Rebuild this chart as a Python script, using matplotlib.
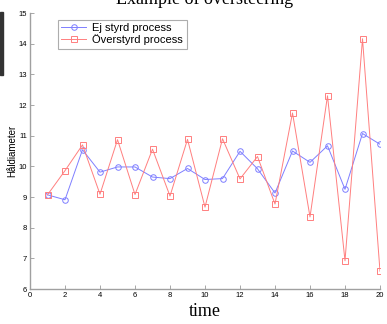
import matplotlib.pyplot as plt
from matplotlib.patches import Rectangle

t = list(range(1, 21))
ej_styrd = [9.07, 8.91, 10.54, 9.81, 9.98, 9.98, 9.65, 9.60, 9.93, 9.57,
            9.60, 10.49, 9.92, 9.13, 10.50, 10.13, 10.67, 9.25, 11.07, 10.72]
overstyrd = [9.07, 9.86, 10.70, 9.09, 10.87, 9.08, 10.56, 9.03, 10.88, 8.67,
             10.90, 9.59, 10.32, 8.77, 11.74, 8.35, 12.30, 6.92, 14.16, 6.58]
yticks = list(range(6, 16))
xticks = list(range(0, 21, 2))

fig = plt.figure(figsize=(3.87, 3.24), dpi=100)
ax = fig.add_axes([30 / 387, 1 - 289 / 324, 350 / 387, 276 / 324])

ax.plot(t, ej_styrd, color="#7f7fff", linewidth=0.7, marker="o", markersize=4,
        markerfacecolor="none", markeredgewidth=0.7, label="Ej styrd process")
ax.plot(t, overstyrd, color="#ff7f7f", linewidth=0.7, marker="s", markersize=4,
        markerfacecolor="none", markeredgewidth=0.7, label="Överstyrd process")

ax.set_xlim(0, 20)
ax.set_ylim(6, 15)
ax.set_xticks(xticks)
ax.set_yticks(yticks)
ax.tick_params(direction="in", length=3, width=0.6, color="#999999",
               labelsize=5.5, pad=2)
for lab in ax.get_xticklabels() + ax.get_yticklabels():
    lab.set_family("Liberation Sans")
for s in ["top", "right"]:
    ax.spines[s].set_visible(False)
for s in ["left", "bottom"]:
    ax.spines[s].set_color("#a0a0a0")
    ax.spines[s].set_linewidth(1.0)

leg = ax.legend(loc="upper left", bbox_to_anchor=(28 / 350, 1 - 7 / 276),
                prop={"family": "Liberation Sans", "size": 8},
                fancybox=False, frameon=True, handlelength=2.2,
                borderpad=0.3, labelspacing=0.1, handletextpad=0.6,
                borderaxespad=0)
leg.get_frame().set_edgecolor("#999999")
leg.get_frame().set_linewidth(0.8)

fig.text(205 / 387, 1 - 4 / 324, "Example of oversteering", family="Liberation Serif",
         fontsize=13, ha="center", va="baseline")
fig.text(205 / 387, 1 - 316 / 324, "time", family="Liberation Serif",
         fontsize=13, ha="center", va="baseline")
fig.text(12 / 387, 1 - 151 / 324, "Håldiameter", family="Liberation Sans",
         fontsize=7, rotation=90, ha="center", va="center")

fig.patches.append(Rectangle((0, 1 - 75 / 324), 2.5 / 387, 63 / 324,
                             transform=fig.transFigure, color="#333333"))

plt.savefig("out.png", dpi=100)
